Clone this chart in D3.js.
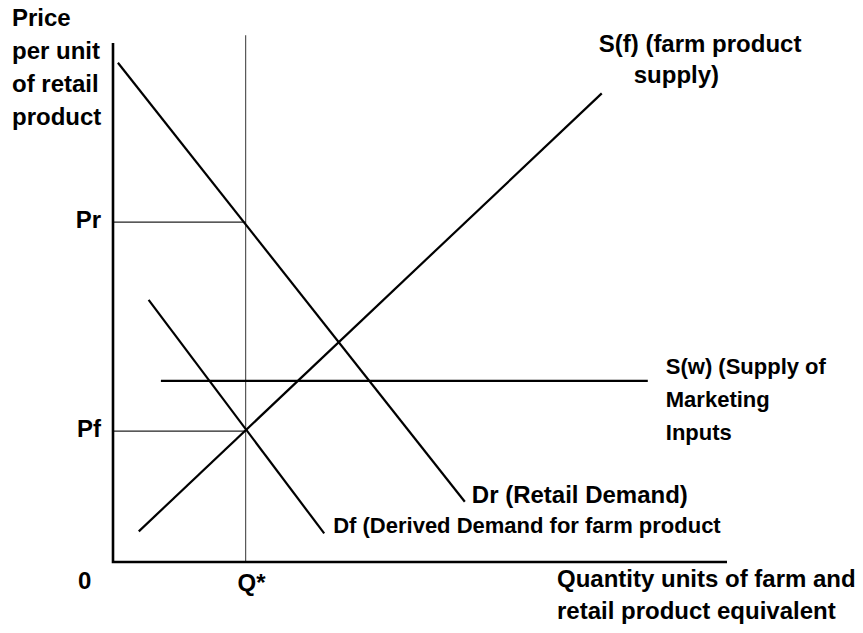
<!DOCTYPE html>
<html>
<head>
<meta charset="utf-8">
<script src="https://cdn.jsdelivr.net/npm/d3@7"></script>
<style>
  body { margin: 0; background: #fff; }
  svg text { font-family: "Liberation Sans", Arial, sans-serif; font-weight: bold; font-size: 24px; fill: #000; }
  svg text.small { font-size: 22px; }
</style>
</head>
<body>
<svg id="chart"></svg>
<script>
const W = 863, H = 633

// chart values (abstract units, 0-100 on both axes)
const qStar = 21.6
const qLineTop = 101.5
const priceLevels = [
  { label: "Pr", value: 65.5 },
  { label: "Pf", value: 25.2 }
]
const retailDemand = [[0.8, 96.2], [57.3, 11.6]]
const derivedDemand = [[5.8, 50.5], [34.4, 5.5]]
const farmSupply = [[4.2, 5.9], [79.6, 90.3]]
const marketingSupply = [[7.8, 34.9], [87.1, 34.9]]

const yTitle = ["Price", "per unit", "of retail", "product"]
const xTitle = ["Quantity units of farm and", "retail product equivalent"]
const farmSupplyLabel = ["S(f) (farm product", "supply)"]
const marketingLabel = ["S(w) (Supply of", "Marketing", "Inputs"]
const retailLabel = "Dr (Retail Demand)"
const derivedLabel = "Df (Derived Demand for farm product"

const x = d3.scaleLinear().domain([0, 100]).range([113, 727])
const y = d3.scaleLinear().domain([0, 100]).range([562, 43])

const svg = d3.select("#chart").attr("width", W).attr("height", H)

const line = d3.line().x(d => x(d[0])).y(d => y(d[1]))

// Q* vertical guide
svg.append("line")
  .attr("x1", x(qStar)).attr("x2", x(qStar))
  .attr("y1", y(qLineTop)).attr("y2", y(0))
  .attr("stroke", "#555").attr("stroke-width", 1.2)

// price guides
svg.selectAll(".guide")
  .data(priceLevels)
  .enter().append("line")
  .attr("class", "guide")
  .attr("x1", x(0)).attr("x2", x(qStar))
  .attr("y1", d => y(d.value)).attr("y2", d => y(d.value))
  .attr("stroke", "#222").attr("stroke-width", 1.2)

svg.selectAll(".plabel")
  .data(priceLevels)
  .enter().append("text")
  .attr("class", "plabel")
  .attr("x", x(0) - 12)
  .attr("y", d => y(d.value) + 6)
  .attr("text-anchor", "end")
  .text(d => d.label)

// curves
const curves = [retailDemand, derivedDemand, farmSupply, marketingSupply]
svg.selectAll(".curve")
  .data(curves)
  .enter().append("path")
  .attr("class", "curve")
  .attr("d", line)
  .attr("fill", "none")
  .attr("stroke", "#000")
  .attr("stroke-width", 2.2)

// axes
svg.append("path")
  .attr("d", line([[0, 100], [0, 0], [100, 0]]))
  .attr("fill", "none")
  .attr("stroke", "#000")
  .attr("stroke-width", 2.6)

// axis labels
svg.append("text").attr("x", x(0) - 35).attr("y", y(0) + 27).text("0")
svg.append("text").attr("x", x(qStar) + 6).attr("y", y(0) + 29)
  .attr("text-anchor", "middle").text("Q*")

svg.append("text")
  .selectAll("tspan")
  .data(yTitle)
  .enter().append("tspan")
  .attr("x", 12)
  .attr("y", (d, i) => 26 + i * 33)
  .text(d => d)

svg.append("text")
  .selectAll("tspan")
  .data(xTitle)
  .enter().append("tspan")
  .attr("x", 557)
  .attr("y", (d, i) => y(0) + 25 + i * 32)
  .text(d => d)

// curve labels
const fsEnd = farmSupply[1]
svg.append("text")
  .selectAll("tspan")
  .data(farmSupplyLabel)
  .enter().append("tspan")
  .attr("x", (d, i) => x(fsEnd[0]) + (i == 0 ? -3 : 32))
  .attr("y", (d, i) => y(fsEnd[1]) - 41 + i * 31)
  .text(d => d)

const msEnd = marketingSupply[1]
svg.append("text")
  .attr("class", "small")
  .selectAll("tspan")
  .data(marketingLabel)
  .enter().append("tspan")
  .attr("x", x(msEnd[0]) + 18)
  .attr("y", (d, i) => y(msEnd[1]) - 7 + i * 33)
  .text(d => d)

svg.append("text")
  .attr("x", x(retailDemand[1][0]) + 7)
  .attr("y", y(retailDemand[1][1]) + 1)
  .text(retailLabel)

svg.append("text")
  .attr("class", "small")
  .attr("x", x(derivedDemand[1][0]) + 9)
  .attr("y", y(derivedDemand[1][1]))
  .text(derivedLabel)
</script>
</body>
</html>
